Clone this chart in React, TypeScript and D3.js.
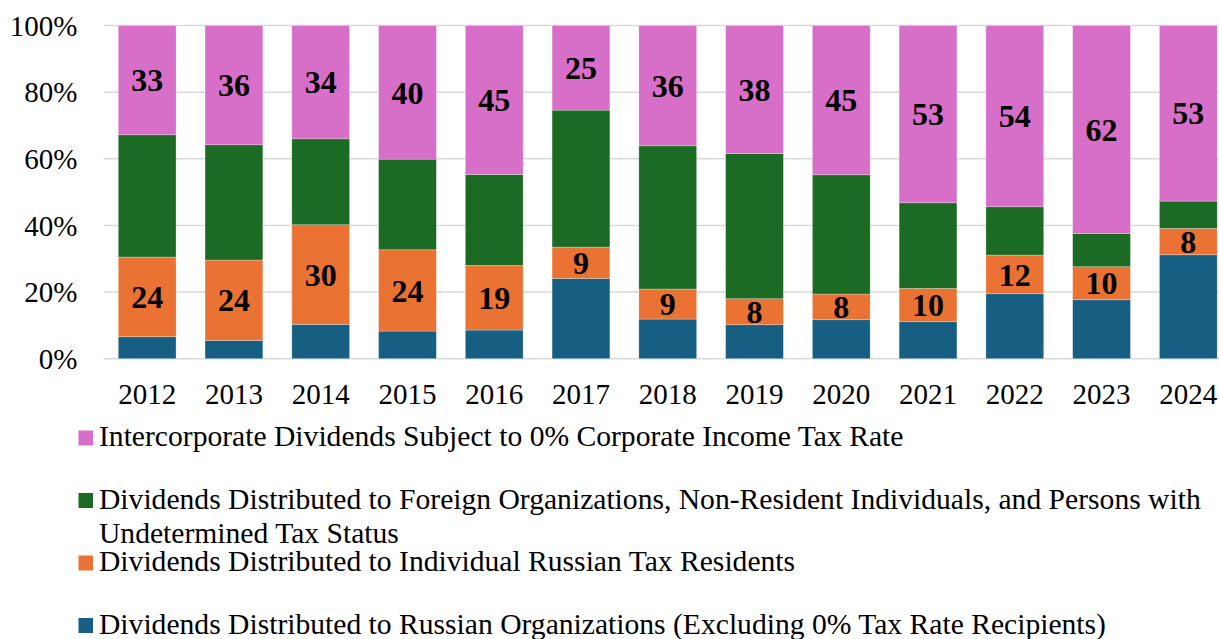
import React from "react";
import * as d3 from "d3";

const years = ["2012","2013","2014","2015","2016","2017","2018","2019","2020","2021","2022","2023","2024"];
const russianOrgs = [6.6, 5.5, 10.3, 8.3, 8.6, 24.1, 11.9, 10.2, 11.7, 11.1, 19.5, 17.7, 31.2];
const individuals = [23.9, 24.1, 29.9, 24.4, 19.4, 9.4, 9.0, 7.8, 7.7, 10.0, 11.6, 9.9, 7.9];
const foreign = [36.7, 34.6, 25.8, 27.2, 27.3, 41.1, 43.0, 43.6, 35.8, 25.7, 14.5, 10.0, 8.2];
const intercorporate = [32.8, 35.8, 34.0, 40.1, 44.7, 25.4, 36.1, 38.4, 44.8, 53.2, 54.4, 62.4, 52.7];
const yTicks = [0, 20, 40, 60, 80, 100];

const seriesKeys = ["russianOrgs", "individuals", "foreign", "intercorporate"];
const seriesData: Record<string, number[]> = { russianOrgs, individuals, foreign, intercorporate };
const colors: Record<string, string> = {
  russianOrgs: "#175F82",
  individuals: "#EA7334",
  foreign: "#1B6B25",
  intercorporate: "#D76FC9",
};
const labeled: Record<string, boolean> = { individuals: true, intercorporate: true };

const legendItems = [
  { key: "intercorporate", lines: ["Intercorporate Dividends Subject to 0% Corporate Income Tax Rate"] },
  { key: "foreign", lines: ["Dividends Distributed to Foreign Organizations, Non-Resident Individuals, and Persons with", "Undetermined Tax Status"] },
  { key: "individuals", lines: ["Dividends Distributed to Individual Russian Tax Residents"] },
  { key: "russianOrgs", lines: ["Dividends Distributed to Russian Organizations (Excluding 0% Tax Rate Recipients)"] },
];

const W = 1219;
const H = 639;
const FONT = '"Liberation Serif", "Times New Roman", serif';

export default function App() {
  const x = d3.scaleBand<string>().domain(years).range([103.8, 1231.7]).paddingInner(0.334).paddingOuter(0.167);
  const y = d3.scaleLinear().domain([0, 100]).range([358.7, 25.5]);

  const rows = years.map((yr, i) => {
    const r: any = { year: yr };
    seriesKeys.forEach((k) => (r[k] = seriesData[k][i]));
    return r;
  });
  const stacked = d3.stack<any>().keys(seriesKeys)(rows);

  const legendBase = [446, 508.5, 571, 633.5];

  return (
    <svg width={W} height={H} style={{ position: "absolute", left: 0, top: 0, background: "#fff" }} fontFamily={FONT}>
      <rect x={0} y={0} width={W} height={H} fill="#fff" />
      {yTicks.map((t) => (
        <g key={t}>
          <line x1={103.8} x2={W} y1={y(t)} y2={y(t)} stroke="#D9D9D9" strokeWidth={1.5} />
          <text x={77.5} y={y(t)} dy="0.35em" textAnchor="end" fontSize={29} fill="#000">
            {t}%
          </text>
        </g>
      ))}
      {stacked.map((layer) => (
        <g key={layer.key} fill={colors[layer.key]}>
          {layer.map((d, i) => (
            <rect
              key={i}
              x={x(years[i])}
              width={x.bandwidth()}
              y={y(d[1])}
              height={y(d[0]) - y(d[1])}
              stroke="#ffffff"
              strokeOpacity={0.35}
              strokeWidth={0.75}
            />
          ))}
        </g>
      ))}
      {stacked
        .filter((layer) => labeled[layer.key])
        .map((layer) => (
          <g key={"l" + layer.key}>
            {layer.map((d, i) => (
              <text
                key={i}
                x={(x(years[i]) as number) + x.bandwidth() / 2}
                y={(y(d[0]) + y(d[1])) / 2}
                dy="0.35em"
                textAnchor="middle"
                fontSize={32}
                fontWeight="bold"
                fill="#000"
              >
                {Math.round(d[1] - d[0])}
              </text>
            ))}
          </g>
        ))}
      {years.map((yr) => (
        <text key={yr} x={(x(yr) as number) + x.bandwidth() / 2} y={404} textAnchor="middle" fontSize={29} fill="#000">
          {yr}
        </text>
      ))}
      {legendItems.map((it, i) => (
        <g key={it.key}>
          <rect x={78.5} y={legendBase[i] - 15.5} width={14.5} height={15} fill={colors[it.key]} />
          {it.lines.map((ln, j) => (
            <text key={j} x={99} y={legendBase[i] + j * 34.4} fontSize={29.6} fill="#000">
              {ln}
            </text>
          ))}
        </g>
      ))}
    </svg>
  );
}
